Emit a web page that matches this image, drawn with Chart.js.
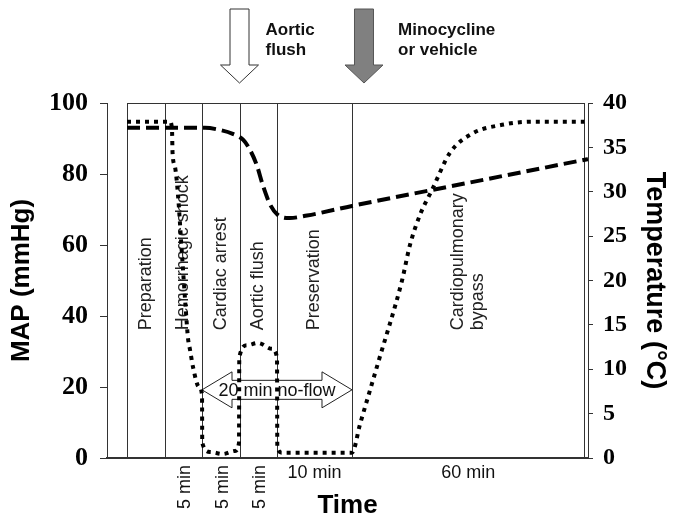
<!DOCTYPE html>
<html>
<head>
<meta charset="utf-8">
<script src="https://cdn.jsdelivr.net/npm/chart.js@4.4.0/dist/chart.umd.min.js"></script>
<style>
  html, body { margin: 0; padding: 0; background: #fff; }
  canvas { display: block; }
</style>
</head>
<body>
<canvas id="chart" width="675" height="523"></canvas>
<script>
// time axis is in arbitrary units: each 5 min phase is 5 units wide
const mapTime = [0, 10.4, 12.4, 14.1, 15.5, 16.4, 17.3, 18.1, 19.1, 20.1, 21.7, 24, 30, 45, 61.47];
const mapValues = [93, 93, 92.4, 91.3, 89.6, 86.8, 82.5, 76.9, 71.3, 68.5, 67.6, 68.3, 71, 77.3, 84.2];

const tempTime = [0, 5.73, 6.0, 6.07, 6.4, 6.8, 7.33, 7.87, 8.13, 8.4, 8.8, 9.6, 10.0, 10.03, 11.07, 12.8,
  14.4, 14.93, 14.97, 16.0, 17.47, 19.33, 20.0, 20.04, 20.67, 30.0, 31.07, 33.47, 36.67, 37.73, 39.07,
  40.67, 43.07, 46.13, 49.73, 54.13, 61.0];
const tempValues = [37.9, 37.9, 37.0, 34.4, 32.8, 29.6, 22.9, 16.3, 13.5, 12.2, 10.25, 8.0, 7.1, 1.7, 0.68, 0.45,
  0.8, 1.7, 11.3, 12.7, 12.96, 12.3, 11.3, 1.24, 0.6, 0.6, 3.8, 10.7, 20, 24, 27.4,
  30.2, 34.4, 36.6, 37.5, 37.9, 37.9];

const phaseBounds = [0, 5, 10, 15, 20, 30, 61];
const phaseNames = [['Preparation'], ['Hemorrhagic shock'], ['Cardiac arrest'], ['Aortic flush'],
  ['Preservation'], ['Cardiopulmonary', 'bypass']];
const durations = ['', '5 min', '5 min', '5 min', '10 min', '60 min'];

const eventTimes = [15, 31.6];
const eventNames = [['Aortic', 'flush'], ['Minocycline', 'or vehicle']];
const noFlow = { from: 10, to: 30, map: 19.2, text: '20 min no-flow' };

const SANS = '"Liberation Sans", Arial, sans-serif';
const SERIF = '"Liberation Serif", "Times New Roman", serif';

function toPoints(xs, ys) {
  return xs.map((x, i) => ({ x: x, y: ys[i] }));
}

function downArrow(ctx, cx, fill, stroke) {
  ctx.beginPath();
  ctx.moveTo(cx - 9.5, 9);
  ctx.lineTo(cx + 9.5, 9);
  ctx.lineTo(cx + 9.5, 65);
  ctx.lineTo(cx + 19, 65);
  ctx.lineTo(cx, 83);
  ctx.lineTo(cx - 19, 65);
  ctx.lineTo(cx - 9.5, 65);
  ctx.closePath();
  ctx.fillStyle = fill;
  ctx.fill();
  ctx.lineWidth = 1;
  ctx.strokeStyle = stroke;
  ctx.stroke();
}

const overlay = {
  id: 'overlay',
  beforeDatasetsDraw(chart) {
    const ctx = chart.ctx;
    const xs = chart.scales.x, ym = chart.scales.y;
    const area = chart.chartArea;
    ctx.save();
    // phase boxes
    ctx.strokeStyle = '#333';
    ctx.lineWidth = 1;
    ctx.beginPath();
    phaseBounds.forEach(b => {
      const px = Math.round(xs.getPixelForValue(b)) + 0.5;
      ctx.moveTo(px, area.top);
      ctx.lineTo(px, area.bottom);
    });
    ctx.moveTo(xs.getPixelForValue(phaseBounds[0]), area.top + 0.5);
    ctx.lineTo(xs.getPixelForValue(phaseBounds[phaseBounds.length - 1]) + 0.5, area.top + 0.5);
    ctx.stroke();

    // phase names, rotated
    ctx.fillStyle = '#222';
    ctx.font = '18px ' + SANS;
    ctx.textAlign = 'left';
    ctx.textBaseline = 'middle';
    const labelBase = ym.getPixelForValue(36);
    phaseNames.forEach((lines, i) => {
      const mid = xs.getPixelForValue((phaseBounds[i] + phaseBounds[i + 1]) / 2);
      ctx.save();
      ctx.translate(mid - (lines.length - 1) * 10, labelBase);
      ctx.rotate(-Math.PI / 2);
      lines.forEach((t, j) => ctx.fillText(t, 0, j * 20));
      ctx.restore();
    });

    // durations under the axis
    ctx.fillStyle = '#111';
    durations.forEach((t, i) => {
      if (!t) return;
      const mid = xs.getPixelForValue((phaseBounds[i] + phaseBounds[i + 1]) / 2);
      if (t === '5 min') {
        ctx.save();
        ctx.translate(mid + 2, area.bottom + 7);
        ctx.rotate(-Math.PI / 2);
        ctx.textAlign = 'right';
        ctx.fillText(t, 0, 0);
        ctx.restore();
      } else {
        ctx.textAlign = 'center';
        ctx.fillText(t, mid, area.bottom + 15);
      }
    });

    // 20 min no-flow double arrow
    const x1 = xs.getPixelForValue(noFlow.from), x2 = xs.getPixelForValue(noFlow.to);
    const cy = ym.getPixelForValue(noFlow.map);
    ctx.beginPath();
    ctx.moveTo(x1, cy);
    ctx.lineTo(x1 + 30, cy - 18);
    ctx.lineTo(x1 + 30, cy - 9.5);
    ctx.lineTo(x2 - 30, cy - 9.5);
    ctx.lineTo(x2 - 30, cy - 18);
    ctx.lineTo(x2, cy);
    ctx.lineTo(x2 - 30, cy + 18);
    ctx.lineTo(x2 - 30, cy + 9.5);
    ctx.lineTo(x1 + 30, cy + 9.5);
    ctx.lineTo(x1 + 30, cy + 18);
    ctx.closePath();
    ctx.fillStyle = '#fff';
    ctx.fill();
    ctx.strokeStyle = '#222';
    ctx.stroke();
    ctx.fillStyle = '#111';
    ctx.textAlign = 'center';
    ctx.fillText(noFlow.text, (x1 + x2) / 2, cy + 1);
    ctx.restore();
  },
  afterDraw(chart) {
    const ctx = chart.ctx;
    const xs = chart.scales.x;
    ctx.save();
    eventTimes.forEach((t, i) => {
      const cx = xs.getPixelForValue(t);
      if (i === 0) downArrow(ctx, cx, '#fff', '#333');
      else downArrow(ctx, cx, '#808080', '#555');
      ctx.fillStyle = '#111';
      ctx.font = 'bold 17px ' + SANS;
      ctx.textAlign = 'left';
      ctx.textBaseline = 'middle';
      eventNames[i].forEach((line, j) => ctx.fillText(line, cx + 26 + (i === 0 ? 0 : 8), 30 + j * 20));
    });
    ctx.restore();
  }
};

new Chart(document.getElementById('chart'), {
  type: 'line',
  data: {
    datasets: [
      {
        label: 'MAP',
        data: toPoints(mapTime, mapValues),
        yAxisID: 'y',
        borderColor: '#000',
        borderWidth: 4,
        borderDash: [13, 6],
        cubicInterpolationMode: 'monotone',
        pointRadius: 0,
        fill: false
      },
      {
        label: 'Temperature',
        data: toPoints(tempTime, tempValues),
        yAxisID: 'y2',
        borderColor: '#000',
        borderWidth: 4,
        borderDash: [4, 5],
        cubicInterpolationMode: 'monotone',
        pointRadius: 0,
        fill: false
      }
    ]
  },
  options: {
    responsive: false,
    animation: false,
    devicePixelRatio: 1,
    layout: { padding: { top: 103, left: 0, right: 0, bottom: 0 } },
    plugins: { legend: { display: false }, tooltip: { enabled: false } },
    scales: {
      x: {
        type: 'linear',
        min: -2.67,
        max: 61.47,
        grid: { display: true, drawOnChartArea: false, drawTicks: false },
        border: { display: true, color: '#333', width: 2 },
        ticks: { display: false },
        title: {
          display: true, text: 'Time', color: '#000',
          font: { family: SANS, size: 26, weight: 'bold' },
          padding: { top: 0, bottom: 2 }
        },
        afterFit: s => { s.height = 65; }
      },
      y: {
        position: 'left',
        min: 0, max: 100,
        ticks: {
          stepSize: 20, color: '#000', padding: 12,
          font: { family: SERIF, size: 26, weight: 'bold' }
        },
        grid: { drawOnChartArea: false, drawTicks: true, tickLength: 7, color: '#333' },
        border: { display: true, color: '#333', width: 1 },
        title: {
          display: true, text: 'MAP (mmHg)', color: '#000',
          font: { family: SANS, size: 26, weight: 'bold' },
          padding: { top: 6, bottom: 0 }
        },
        afterFit: s => { s.width = 107; }
      },
      y2: {
        position: 'right',
        min: 0, max: 40,
        ticks: {
          stepSize: 5, color: '#000', padding: 10,
          font: { family: SERIF, size: 24, weight: 'bold' }
        },
        grid: { drawOnChartArea: false, drawTicks: true, tickLength: 5, color: '#333' },
        border: { display: true, color: '#333', width: 1 },
        title: {
          display: true, text: 'Temperature (°C)', color: '#000',
          font: { family: SANS, size: 27, weight: 'bold' },
          padding: { top: 4, bottom: 0 }
        },
        afterFit: s => { s.width = 87; }
      }
    }
  },
  plugins: [overlay]
});
</script>
</body>
</html>
